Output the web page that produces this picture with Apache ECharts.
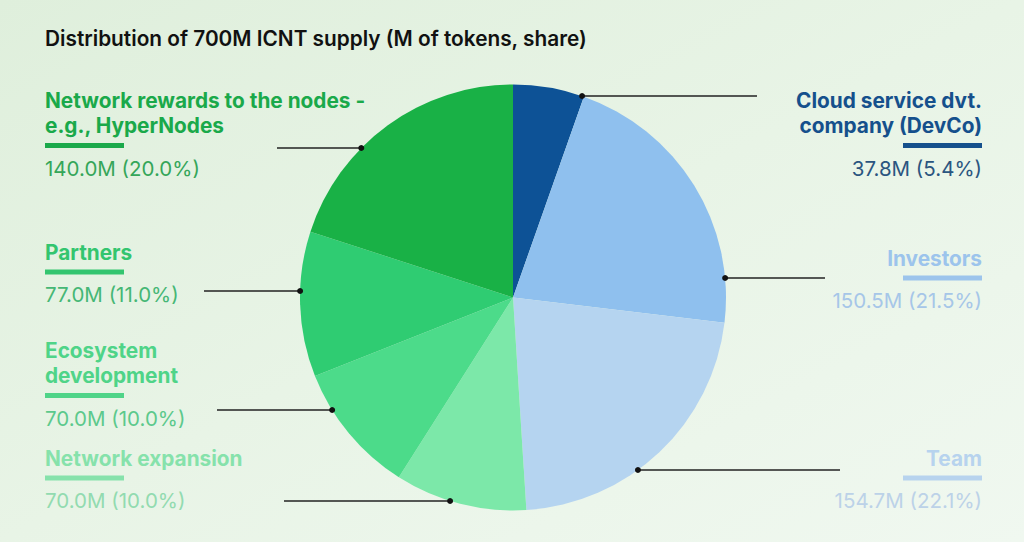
<!DOCTYPE html>
<html><head><meta charset="utf-8">
<script src="https://cdn.jsdelivr.net/npm/echarts@6/dist/echarts.min.js"></script>
<style>html,body{margin:0;padding:0;background:#e8f4e6;} #c{width:1024px;height:542px;}</style>
</head><body><div id="c"></div>
<script>
// ---- data ----
const categories = ['Cloud service dvt.\ncompany (DevCo)', 'Investors', 'Team', 'Network expansion', 'Ecosystem\ndevelopment', 'Partners', 'Network rewards to the nodes -\ne.g., HyperNodes'];
const valuesM = [37.8, 150.5, 154.7, 70.0, 70.0, 77.0, 140.0];
const titleText = 'Distribution of 700M ICNT supply (M of tokens, share)';

// ---- styles / layout ----
const sliceColors = ['#0d5296', '#8fc0ee', '#b5d4f0', '#7ce8a9', '#4cdb8a', '#2fcc72', '#19b146'];
const nameColors  = ['#15508c', '#9cc4ec', '#b7d3ee', '#86e2ab', '#4fd488', '#33c56f', '#1aa94a'];
const valueColors = ['#2b5580', '#a6c6e8', '#bcd2e8', '#92dbb0', '#5cc98c', '#45b775', '#35a659'];
const barColors   = ['#15508c', '#9cc4ec', '#b7d3ee', '#86e2ab', '#4fd488', '#33c56f', '#1aa94a'];
const side      = ['right', 'right', 'right', 'left', 'left', 'left', 'left'];
const labelX    = [982, 982, 982, 45, 45, 45, 45];
const labelTop  = [88, 245.5, 445.5, 445.5, 338, 239.5, 88];
const lineY     = [96, 278, 470, 501, 410, 291, 148];
const lineEndX  = [757, 825, 840, 284, 217, 204, 277];
const CX = 513, CY = 297.5, R = 213;
const FONT = 'Inter, "Noto Sans", sans-serif';

function dotX(i) {
  const dy = lineY[i] - CY;
  const dx = Math.sqrt(Math.max(0, R * R - dy * dy));
  return CX + (side[i] === 'right' ? dx : -dx);
}

const total = valuesM.reduce((a, b) => a + b, 0);
const pieData = categories.map((name, i) => ({
  name: name,
  value: valuesM[i],
  itemStyle: { color: sliceColors[i] },
  label: {
    rich: {
      n: { color: nameColors[i], fontSize: 20.8, fontWeight: 700, lineHeight: 25, fontFamily: FONT },
      b: { backgroundColor: barColors[i], width: 79, height: 5, lineHeight: 15 },
      v: { color: valueColors[i], fontSize: 20.5, fontWeight: 400, lineHeight: 30, fontFamily: FONT }
    }
  }
}));

const chart = echarts.init(document.getElementById('c'), null, { renderer: 'svg' });
chart.setOption({
  animation: false,
  backgroundColor: {
    type: 'linear', x: 0, y: 0, x2: 1, y2: 1,
    colorStops: [{ offset: 0, color: '#dfefdc' }, { offset: 0.5, color: '#e8f4e6' }, { offset: 1, color: '#f0f8f0' }]
  },
  title: {
    text: titleText, left: 45, top: 28, padding: 0,
    textStyle: { fontFamily: FONT, fontSize: 20.8, fontWeight: 600, color: '#111111' }
  },
  graphic: lineY.map((y, i) => ({
    type: 'circle', z: 100,
    shape: { cx: dotX(i), cy: y, r: 3 },
    style: { fill: '#111111' }
  })),
  series: [{
    type: 'pie',
    center: [CX, CY],
    radius: [0, R],
    startAngle: 90,
    clockwise: true,
    silent: true,
    emphasis: { disabled: true },
    itemStyle: { borderWidth: 0 },
    data: pieData,
    label: {
      show: true,
      position: 'outside',
      fontFamily: FONT,
      formatter: function (p) {
        const pct = (p.value / total * 100).toFixed(1);
        return '{n|' + p.name + '}\n{b|}\n{v|' + p.value.toFixed(1) + 'M (' + pct + '%)}';
      }
    },
    labelLine: { show: true, lineStyle: { color: '#222222', width: 1.5 } },
    labelLayout: function (params) {
      const i = params.dataIndex;
      const dx = dotX(i);
      return {
        x: labelX[i],
        y: labelTop[i],
        align: side[i],
        verticalAlign: 'top',
        labelLinePoints: [[dx, lineY[i]], [dx, lineY[i]], [lineEndX[i], lineY[i]]]
      };
    }
  }]
});
</script>
</body></html>
